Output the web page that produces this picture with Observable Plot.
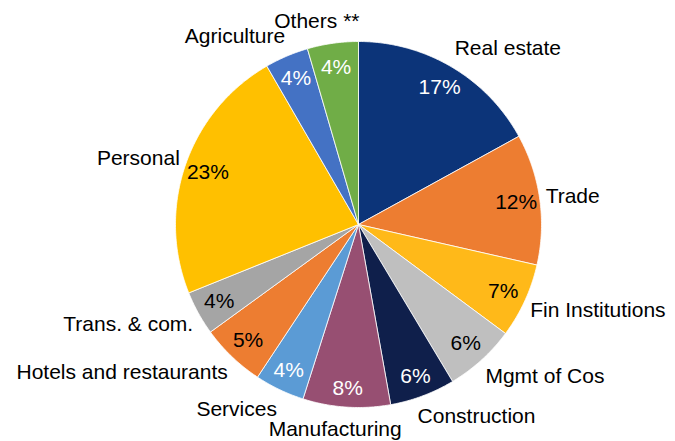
<!DOCTYPE html>
<html><head><meta charset="utf-8">
<script src="https://cdn.jsdelivr.net/npm/d3@7"></script>
<script src="https://cdn.jsdelivr.net/npm/@observablehq/plot@0.6"></script>
<style>body{margin:0;background:#fff} svg{display:block}</style>
</head><body><div id="chart"></div>
<script>
// ---- data ----
const categories = ["Real estate","Trade","Fin Institutions","Mgmt of Cos","Construction","Manufacturing","Services","Hotels and restaurants","Trans. & com.","Personal","Agriculture","Others **"];
// slice sizes (percent)
const shares = [17.0, 11.56, 6.6, 6.25, 5.78, 7.72, 4.4, 5.7, 3.9, 22.75, 3.85, 4.5];
// percentage labels as printed on the chart
const pctText = ["17%","12%","7%","6%","6%","8%","4%","5%","4%","23%","4%","4%"];
// ---- styles ----
const sliceColors = ["#0c3479","#ed7d31","#ffb919","#bfbfbf","#0f1f4b","#974f72","#5b9bd5","#ed7d31","#a5a5a5","#ffc000","#4472c4","#70ad47"];
const pctColors = ["#fff","#000","#000","#000","#fff","#fff","#fff","#000","#000","#000","#fff","#fff"];

const W = 675, H = 441, CX = 358, CY = 224, R = 183;
const FONT = "Liberation Sans, Arial, sans-serif";
const FS = 21;

const total = d3.sum(shares);
let acc = 0;
const slices = categories.map((name, i) => {
  const a0 = acc / total * 2 * Math.PI;
  acc += shares[i];
  const a1 = acc / total * 2 * Math.PI;
  return {name, i, a0, a1, mid: (a0 + a1) / 2};
});

// polygon points in data units (radius 1)
const pts = [];
for (const s of slices) {
  pts.push({name: s.name, x: 0, y: 0});
  const n = Math.max(2, Math.ceil((s.a1 - s.a0) / (Math.PI / 360)));
  for (let k = 0; k <= n; k++) {
    const a = s.a0 + (s.a1 - s.a0) * k / n;
    pts.push({name: s.name, x: Math.sin(a), y: Math.cos(a)});
  }
  pts.push({name: s.name, x: 0, y: 0});
}

// text measurement
const ctx = document.createElement("canvas").getContext("2d");
ctx.font = `${FS}px ${FONT}`;

const pctLabels = slices.map(s => {
  const r = 0.87 + 0.03 * Math.max(0, -Math.cos(s.mid)) ** 8;
  return {x: r * Math.sin(s.mid), y: r * Math.cos(s.mid), text: pctText[s.i], color: pctColors[s.i]};
});

const gap = 6 / R;
const halfH = 16 / R;
const catLabels = slices.map(s => {
  const sn = Math.sin(s.mid), cs = Math.cos(s.mid);
  const px = (1 + gap) * sn, py = (1 + gap) * cs;
  const w = ctx.measureText(s.name).width / R;
  const sx = Math.max(-1, Math.min(1, sn * 2.5));
  return {x: px + sx * w / 2, y: py + cs * halfH, text: s.name};
});

const chart = Plot.plot({
  width: W, height: H, margin: 0,
  style: {fontFamily: FONT, background: "#fff"},
  x: {domain: [-CX / R, (W - CX) / R], axis: null},
  y: {domain: [(CY - H) / R, CY / R], axis: null},
  color: {domain: categories, range: sliceColors},
  marks: [
    Plot.line(pts, {x: "x", y: "y", z: "name", fill: "name", stroke: "#fff", strokeWidth: 0.8, curve: "linear"}),
    Plot.text(pctLabels, {x: "x", y: "y", text: "text", fill: d => d.color, fontSize: FS, textAnchor: "middle", lineAnchor: "middle"}),
    Plot.text(catLabels, {x: "x", y: "y", text: "text", fill: "#000", fontSize: FS, textAnchor: "middle", lineAnchor: "middle"})
  ]
});
document.getElementById("chart").append(chart);
</script>
</body></html>
